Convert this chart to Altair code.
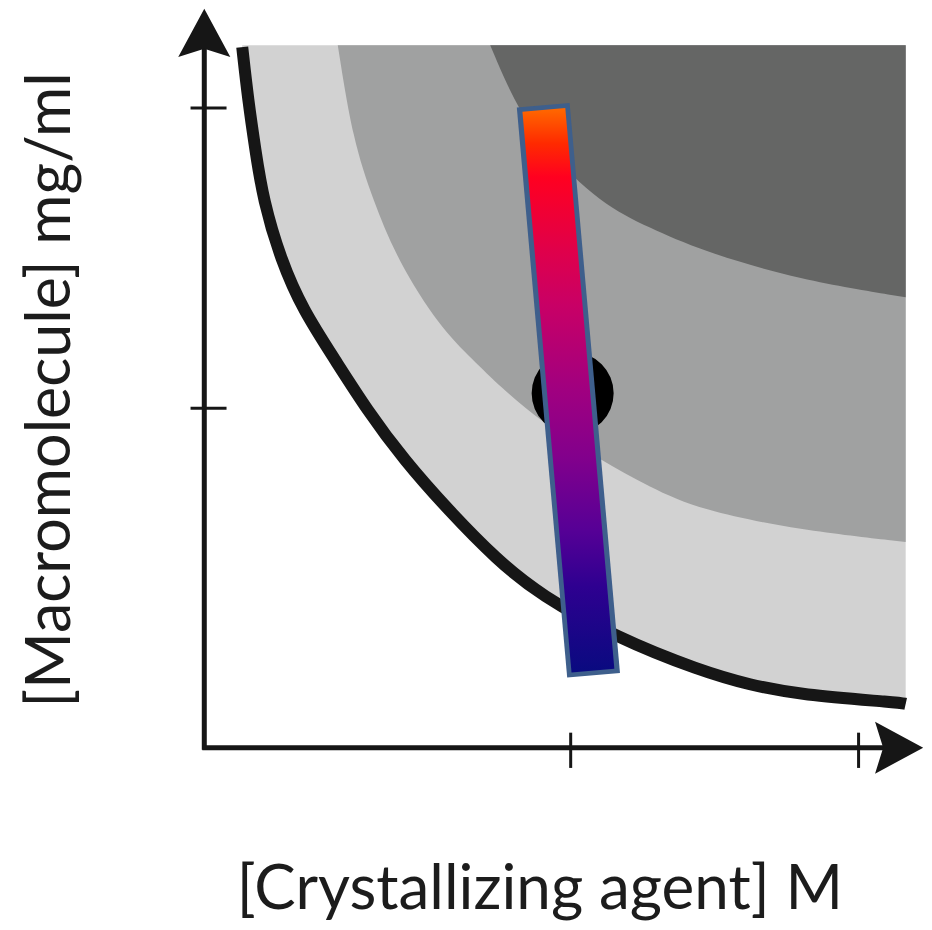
import altair as alt
import pandas as pd

# ---- data (arbitrary concentration units) ----
# solubility curve (black line, lower edge of the light grey zone)
sol_x = [5.8, 6.7, 7.8, 9.0, 11.7, 15.1, 20.0, 24.9, 30.5, 37.3, 44.7, 51.3, 63.1, 75.8, 83.4, 91.0, 106.3, 107.2]
sol_y = [107.3, 99.2, 91.6, 83.9, 74.7, 67.0, 59.4, 51.7, 44.1, 36.4, 28.8, 23.4, 16.8, 11.8, 9.6, 8.1, 6.9, 6.7]
# nucleation boundary (medium grey zone)
nuc_x = [20.4, 22.7, 25.8, 29.5, 36.0, 41.1, 45.2, 51.8, 60.5, 68.1, 75.8, 91.0, 107.2]
nuc_y = [107.6, 93.1, 83.9, 74.7, 64.4, 59.4, 55.3, 49.7, 44.1, 39.9, 36.4, 33.3, 31.5]
# precipitation boundary (dark grey zone)
pre_x = [43.7, 47.2, 52.1, 60.5, 68.1, 75.8, 91.0, 107.2]
pre_y = [107.6, 99.2, 91.6, 83.4, 79.6, 76.2, 71.6, 69.0]
zone_top = 107.6

# axis ticks
x_ticks = [56, 100]
y_ticks = [52, 98]

# experiment point and screening bar (top -> bottom)
point_x, point_y = [56.3], [54.3]
bar_outer_x, bar_outer_y = [51.8, 59.5], [98.4, 11.1]
bar_inner_x, bar_inner_y = [51.9, 59.4], [97.7, 11.8]

x_label = "[Crystallizing agent] M"
y_label = "[Macromolecule] mg/ml"

# ---- scales ----
XS = alt.Scale(domain=[-30, 110], nice=False, zero=False)
YS = alt.Scale(domain=[-26.7, 113.3], nice=False, zero=False)


def X(f="x"):
    return alt.X(f"{f}:Q", scale=XS, axis=None)


def Y(f="y"):
    return alt.Y(f"{f}:Q", scale=YS, axis=None)


def zone(xs, ys, color):
    df = pd.DataFrame({"x": xs, "y": ys, "top": [zone_top] * len(xs)})
    return alt.Chart(df).mark_area(color=color, opacity=1, interpolate="basis").encode(
        x=X(), y=Y(), y2=alt.Y2("top:Q")
    )


light = zone(sol_x, sol_y, "#d2d2d2")
medium = zone(nuc_x, nuc_y, "#a0a1a1")
dark = zone(pre_x, pre_y, "#656665")

sol_line = alt.Chart(pd.DataFrame({"x": sol_x, "y": sol_y})).mark_line(
    color="#161616", strokeWidth=12, strokeCap="butt", interpolate="basis"
).encode(x=X(), y=Y())

point = alt.Chart(pd.DataFrame({"x": point_x, "y": point_y})).mark_circle(
    color="#000000", size=6724, opacity=1
).encode(x=X(), y=Y())

bar_outline = alt.Chart(
    pd.DataFrame({"x": bar_outer_x, "y": bar_outer_y, "o": [0, 1]})
).mark_line(color="#3e5f8c", strokeWidth=53, strokeCap="butt").encode(
    x=X(), y=Y(), order="o:Q"
)

grad = alt.LinearGradient(
    gradient="linear",
    stops=[
        alt.GradientStop(color="#ff6600", offset=0),
        alt.GradientStop(color="#ff2a00", offset=0.06),
        alt.GradientStop(color="#ff0020", offset=0.12),
        alt.GradientStop(color="#e0004a", offset=0.25),
        alt.GradientStop(color="#c80066", offset=0.35),
        alt.GradientStop(color="#a00080", offset=0.5),
        alt.GradientStop(color="#82008c", offset=0.62),
        alt.GradientStop(color="#560096", offset=0.75),
        alt.GradientStop(color="#2e0090", offset=0.85),
        alt.GradientStop(color="#0a0a80", offset=1),
    ],
    x1=0, x2=0, y1=0, y2=1,
)
bar_fill = alt.Chart(
    pd.DataFrame({"x": bar_inner_x, "y": bar_inner_y, "o": [0, 1]})
).mark_line(stroke=grad, strokeWidth=43, strokeCap="butt").encode(
    x=X(), y=Y(), order="o:Q"
)

axes_df = pd.DataFrame({"x": [0, -0.3], "y": [-0.3, 0], "x2": [0, 105.6], "y2": [108.9, 0]})
axes = alt.Chart(axes_df).mark_rule(color="#161616", strokeWidth=5).encode(
    x=X(), y=Y(), x2="x2:Q", y2="y2:Q"
)

ticks_df = pd.DataFrame(
    {
        "x": [t for t in x_ticks] + [-2.1] * len(y_ticks),
        "x2": [t for t in x_ticks] + [3.4] * len(y_ticks),
        "y": [2.3] * len(x_ticks) + y_ticks,
        "y2": [-3.1] * len(x_ticks) + y_ticks,
    }
)
ticks = alt.Chart(ticks_df).mark_rule(color="#161616", strokeWidth=3).encode(
    x=X(), y=Y(), x2="x2:Q", y2="y2:Q"
)

up_arrow = alt.Chart(pd.DataFrame({"x": [0], "y": [108.9]})).mark_point(
    shape="M0,-1L0.93,0.72L0,0.43L-0.93,0.72Z", size=3136, filled=True,
    color="#161616", opacity=1,
).encode(x=X(), y=Y())

right_arrow = alt.Chart(pd.DataFrame({"x": [105.6], "y": [0]})).mark_point(
    shape="M1,0L-0.72,0.93L-0.43,0L-0.72,-0.93Z", size=3136, filled=True,
    color="#161616", opacity=1,
).encode(x=X(), y=Y())

xlab = alt.Chart(pd.DataFrame({"x": [51.3], "y": [-21.8], "t": [x_label]})).mark_text(
    font="Lato", fontSize=62, color="#1c1c1c", align="center", baseline="middle"
).encode(x=X(), y=Y(), text="t:N")

ylab = alt.Chart(pd.DataFrame({"x": [-23.3], "y": [54.8], "t": [y_label]})).mark_text(
    font="Lato", fontSize=61, color="#1c1c1c", align="center", baseline="middle", angle=270
).encode(x=X(), y=Y(), text="t:N")

chart = alt.layer(
    light, medium, dark, sol_line, point, bar_outline, bar_fill,
    axes, ticks, up_arrow, right_arrow, xlab, ylab
).properties(
    width=916, height=914, autosize=alt.AutoSizeParams(type="none"), padding=0,
    background="white",
).configure_view(stroke=None)

chart.save("out.html", embed_options={"renderer": "svg", "actions": False})
